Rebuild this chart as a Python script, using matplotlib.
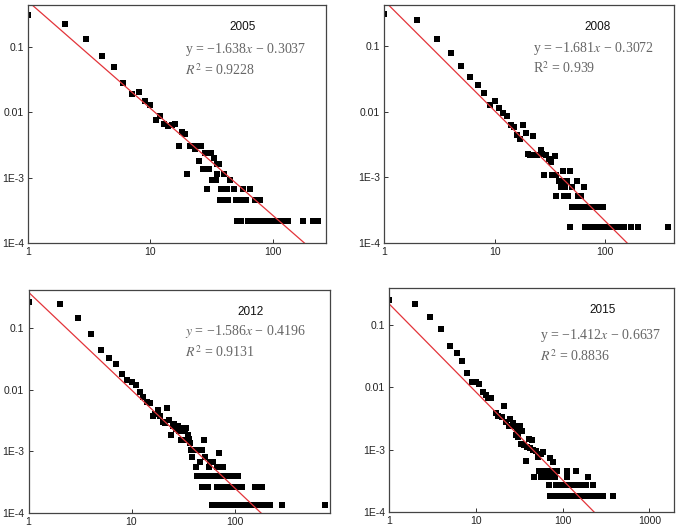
import numpy as np
import matplotlib.pyplot as plt
from matplotlib.ticker import FixedLocator, FixedFormatter, NullLocator

plt.rcParams['mathtext.fontset'] = 'stix'

# ---- data (x = degree, y = share) ----
x_2005 = [1, 2, 3, 4, 5, 6, 7, 8, 9, 10, 11, 12, 13, 14, 15, 16, 17, 18, 19, 20,
          21, 22, 23, 24, 25, 26, 27, 28, 29, 30, 31, 32, 33, 34, 35, 36, 35, 40, 45, 38, 42, 48, 57, 65,
          37, 39, 41, 43, 50, 52, 54, 56, 58, 60, 72, 78,
          51, 53, 55, 62, 65, 68, 70, 73, 76, 80, 84, 88, 92, 97, 101, 112, 118, 125, 133, 176, 212, 232]
y_2005 = [0.31, 0.22, 0.132, 0.073, 0.0495, 0.0285, 0.0191, 0.0206, 0.015, 0.013, 0.0075, 0.0089,
          0.0065, 0.0061, 0.0063, 0.0066, 0.0031, 0.0050, 0.0047, 0.00114,
          0.0031, 0.0031, 0.0027, 0.0030, 0.0018, 0.0031, 0.00135, 0.0024, 0.00068, 0.00135, 0.0024,
          0.00091, 0.0020, 0.00091, 0.0016, 0.0016, 0.00114, 0.00114, 0.00091, 0.00068, 0.00068, 0.00068, 0.00068, 0.00068,
          0.00046, 0.00046, 0.00046, 0.00046, 0.00046, 0.00046, 0.00046, 0.00046, 0.00046, 0.00046, 0.00046, 0.00046,
          0.00022, 0.00022, 0.00022, 0.00022, 0.00022, 0.00022, 0.00022, 0.00022, 0.00022, 0.00022, 0.00022,
          0.00022, 0.00022, 0.00022, 0.00022, 0.00022, 0.00022, 0.00022, 0.00022, 0.00022, 0.00022, 0.00022]

x_2008 = [1, 2, 3, 4, 5, 6, 7, 8, 9, 10, 11, 12, 13, 14, 15, 16, 17, 18, 19, 20,
          21, 22, 23, 24, 26, 27, 29, 31, 32, 35,
          41, 48, 28, 33, 36, 38, 42, 45, 56, 40, 43, 50, 64, 36, 42, 46, 57, 60,
          50, 53, 56, 60, 64, 68, 72, 76, 80, 85, 90, 95,
          48, 66, 70, 74, 78, 82, 86, 90, 95, 100, 106, 112, 118, 125, 132, 140, 148, 170, 199, 370]
y_2008 = [0.307, 0.249, 0.128, 0.0774, 0.050, 0.0334, 0.0255, 0.0193, 0.0127, 0.0144, 0.0115, 0.0095,
          0.0087, 0.0063, 0.0058, 0.0044, 0.0038, 0.0063, 0.0047, 0.0023,
          0.0022, 0.0042, 0.0022, 0.0022, 0.0026, 0.0023, 0.0022, 0.0019, 0.0017, 0.0021,
          0.00123, 0.00123, 0.00107, 0.00107, 0.00107, 0.00089, 0.00089, 0.00089, 0.00089,
          0.00071, 0.00071, 0.00071, 0.00071, 0.00052, 0.00052, 0.00052, 0.00052, 0.00052,
          0.00035, 0.00035, 0.00035, 0.00035, 0.00035, 0.00035, 0.00035, 0.00035, 0.00035, 0.00035, 0.00035, 0.00035,
          0.000174, 0.000174, 0.000174, 0.000174, 0.000174, 0.000174, 0.000174, 0.000174, 0.000174, 0.000174,
          0.000174, 0.000174, 0.000174, 0.000174, 0.000174, 0.000174, 0.000174, 0.000174, 0.000174, 0.000174]

x_2012 = [1, 2, 3, 4, 5, 6, 7, 8, 9, 10, 11, 12, 13, 14, 15, 16, 17, 18, 19, 20,
          21, 22, 23, 24, 25, 26, 27, 28, 29, 30, 31, 32, 33, 34, 35, 36, 37, 38, 39, 41,
          42, 44, 46, 48, 50, 52, 56, 58, 62, 68, 71, 73, 78,
          43, 45, 50, 53, 58, 61, 64, 67, 70, 74, 78, 82, 86, 91, 97, 107,
          48, 51, 55, 67, 75, 80, 85, 90, 96, 104, 117, 158, 170, 183,
          60, 63, 66, 69, 72, 75, 78, 82, 86, 90, 94, 98, 103, 108, 113, 118, 124, 130, 136, 143,
          150, 158, 166, 175, 185, 195, 207, 220, 288, 749]
y_2012 = [0.261, 0.242, 0.147, 0.081, 0.044, 0.033, 0.0258, 0.0178, 0.0145, 0.0135, 0.0119, 0.0091,
          0.0076, 0.0063, 0.0060, 0.0038, 0.0041, 0.0047, 0.0037, 0.0030,
          0.00285, 0.0050, 0.0032, 0.00185, 0.0026, 0.0028, 0.0023, 0.0026, 0.0021, 0.00153,
          0.0024, 0.00153, 0.0021, 0.0024, 0.00185, 0.0016, 0.00135, 0.00105, 0.00082, 0.00105,
          0.00055, 0.00105, 0.00068, 0.00105, 0.00153, 0.00082, 0.00055, 0.00068, 0.00068, 0.00055,
          0.00095, 0.00055, 0.00055,
          0.000404, 0.000404, 0.000404, 0.000404, 0.000404, 0.000404, 0.000404, 0.000404,
          0.000404, 0.000404, 0.000404, 0.000404, 0.000404, 0.000404, 0.000404, 0.000404,
          0.000268, 0.000268, 0.000268, 0.000268, 0.000268, 0.000268, 0.000268, 0.000268,
          0.000268, 0.000268, 0.000268, 0.000268, 0.000268, 0.000268,
          0.000134, 0.000134, 0.000134, 0.000134, 0.000134, 0.000134, 0.000134, 0.000134, 0.000134, 0.000134,
          0.000134, 0.000134, 0.000134, 0.000134, 0.000134, 0.000134, 0.000134, 0.000134, 0.000134, 0.000134,
          0.000134, 0.000134, 0.000134, 0.000134, 0.000134, 0.000134, 0.000134, 0.000134, 0.000134, 0.000134]

x_2015 = [1, 2, 3, 4, 5, 6, 7, 8, 9, 10, 11, 12, 13, 14, 15, 17, 18, 20, 21, 22,
          24, 25, 27, 28, 29, 30, 31, 32, 33, 34, 36, 38, 39, 41, 42, 44, 46, 50, 52, 57, 60, 72, 78,
          54, 58, 62, 66, 70, 74, 79, 84, 87, 111, 142,
          47, 57, 63, 68, 74, 81, 113, 198,
          69, 83, 88, 94, 100, 107, 114, 122, 130, 139, 148, 158, 168, 178, 186, 222,
          72, 76, 80, 84, 88, 92, 97, 102, 107, 113, 119, 125, 132, 139, 146, 154, 162, 171, 180, 190,
          200, 211, 222, 234, 246, 260, 274, 293, 384]
y_2015 = [0.245, 0.217, 0.133, 0.086, 0.0455, 0.0359, 0.0264, 0.0168, 0.0119, 0.0119, 0.0114, 0.0083,
          0.0075, 0.0066, 0.0066, 0.0038, 0.0035, 0.0033, 0.0050, 0.0028,
          0.0024, 0.0031, 0.0027, 0.0024, 0.0017, 0.0021, 0.0016, 0.0024, 0.00123, 0.0020, 0.00118,
          0.00066, 0.00112, 0.0015, 0.00106, 0.00143, 0.0010, 0.00095, 0.00077, 0.00085, 0.00093, 0.00072, 0.00064,
          0.00046, 0.00046, 0.00046, 0.00046, 0.00046, 0.00046, 0.00046, 0.00046, 0.00046, 0.00046, 0.00046,
          0.00037, 0.00037, 0.00037, 0.00037, 0.00037, 0.00037, 0.00037, 0.00037,
          0.00027, 0.00027, 0.00027, 0.00027, 0.00027, 0.00027, 0.00027, 0.00027,
          0.00027, 0.00027, 0.00027, 0.00027, 0.00027, 0.00027, 0.00027, 0.00027,
          0.00018, 0.00018, 0.00018, 0.00018, 0.00018, 0.00018, 0.00018, 0.00018, 0.00018, 0.00018,
          0.00018, 0.00018, 0.00018, 0.00018, 0.00018, 0.00018, 0.00018, 0.00018, 0.00018, 0.00018,
          0.00018, 0.00018, 0.00018, 0.00018, 0.00018, 0.00018, 0.00018, 0.00018, 0.00018]

years = ['2005', '2008', '2012', '2015']
slopes = [-1.638, -1.681, -1.586, -1.412]
intercepts = [-0.3037, -0.3072, -0.4196, -0.6637]
eq_labels = ['y = \u22121.638$x$ \u2212 0.3037', 'y = \u22121.681$x$ \u2212 0.3072',
             '$y$ = \u22121.586$x$ \u2212 0.4196', 'y = \u22121.412$x$ \u2212 0.6637']
r2_labels = ['$R^2$ = 0.9228', 'R$^2$ = 0.939', '$R^2$ = 0.9131', '$R^2$ = 0.8836']

y_ticks = [1e-4, 1e-3, 0.01, 0.1]
y_ticklabels = ['1E-4', '1E-3', '0.01', '0.1']
x_ticks = [1, 10, 100, 1000]
x_ticklabels = ['1', '10', '100', '1000']

# ---- layout ----
W, H = 685, 532
fig = plt.figure(figsize=(W / 100, H / 100), dpi=100)

# (left, right, top, bottom) in pixels, and axis ranges
boxes = [(28, 326, 5, 243), (384, 674, 5, 243), (28.5, 330, 290, 513), (389, 674, 288, 512)]
xmaxs = [271, 417, 845, 1920]
ymaxs = [0.437, 0.42, 0.413, 0.388]
year_pos = [(0.72, 0.908), (0.738, 0.908), (0.735, 0.901), (0.751, 0.903)]
eq_pos = [(0.527, 0.811, 0.727), (0.514, 0.819, 0.735), (0.519, 0.812, 0.722), (0.53, 0.787, 0.697)]

xs = [x_2005, x_2008, x_2012, x_2015]
ys = [y_2005, y_2008, y_2012, y_2015]

for i in range(4):
    l, r, t, b = boxes[i]
    ax = fig.add_axes([l / W, 1 - b / H, (r - l) / W, (b - t) / H])
    ax.set_xscale('log')
    ax.set_yscale('log')
    ax.set_xlim(1, xmaxs[i])
    ax.set_ylim(1e-4, ymaxs[i])

    ax.plot(xs[i], ys[i], 's', color='black', ms=4.5, mew=0)

    xl = np.array([1, xmaxs[i]])
    ax.plot(xl, 10 ** intercepts[i] * xl ** slopes[i], color='#e3343a', lw=0.9)

    ax.xaxis.set_major_locator(FixedLocator(x_ticks))
    ax.xaxis.set_major_formatter(FixedFormatter(x_ticklabels))
    ax.yaxis.set_major_locator(FixedLocator(y_ticks))
    ax.yaxis.set_major_formatter(FixedFormatter(y_ticklabels))
    ax.xaxis.set_minor_locator(NullLocator())
    ax.yaxis.set_minor_locator(NullLocator())
    ax.tick_params(direction='in', length=3, width=0.7, colors='#333333', labelsize=7.5,
                   labelcolor='#222222', pad=3)
    for lab in ax.get_xticklabels() + ax.get_yticklabels():
        lab.set_family('Liberation Sans')
    for sp in ax.spines.values():
        sp.set_color('#444444')
        sp.set_linewidth(0.9)

    ax.text(year_pos[i][0], year_pos[i][1], years[i], transform=ax.transAxes,
            ha='center', va='center', fontsize=8.5, family='Liberation Sans', color='#111111')
    ex, ey, ry = eq_pos[i]
    ax.text(ex, ey, eq_labels[i], transform=ax.transAxes, ha='left', va='center',
            fontsize=10, family='Liberation Serif', color='#666666')
    ax.text(ex, ry, r2_labels[i], transform=ax.transAxes, ha='left', va='center',
            fontsize=10, family='Liberation Serif', color='#666666')

fig.savefig('out.png', dpi=100)
